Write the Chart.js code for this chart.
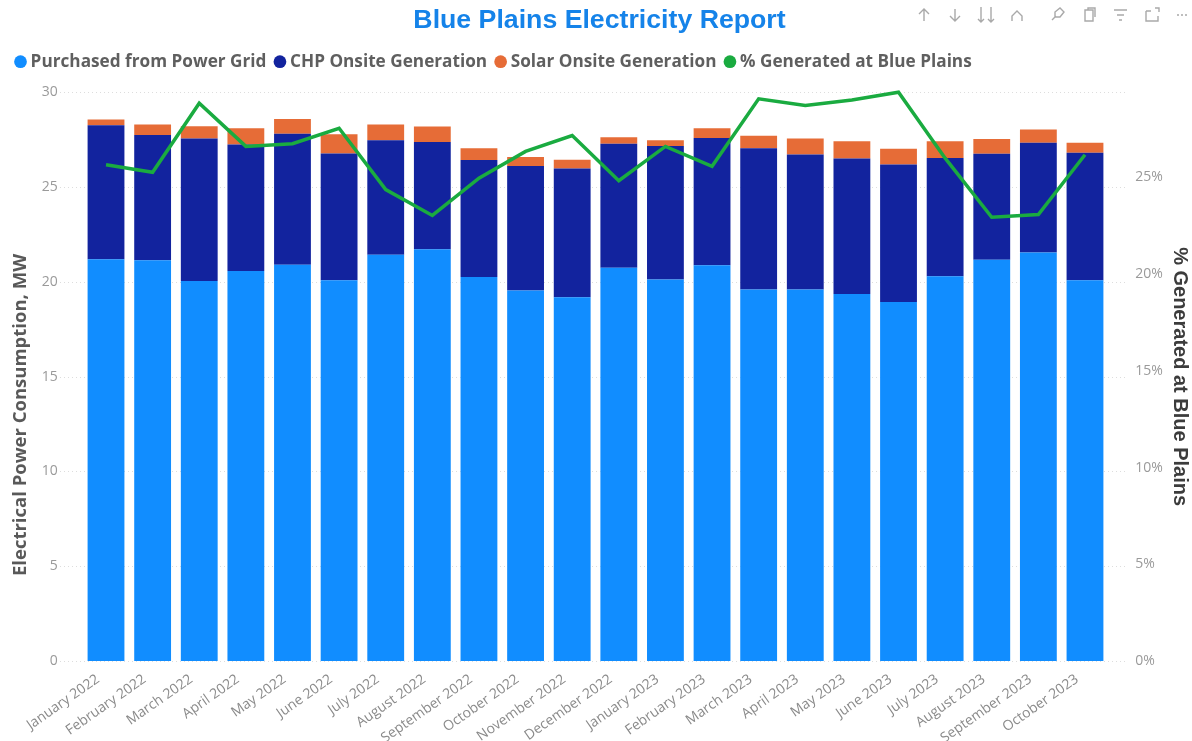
<!DOCTYPE html>
<html lang="en">
<head>
    <meta charset="UTF-8">
    <title>Blue Plains Electricity Report</title>
    <script src="https://cdn.jsdelivr.net/npm/chart.js"></script>
    <style>
        body {
            margin: 0;
            padding: 0;
            background: #ffffff;
        }
        .wrap {
            position: relative;
            width: 1192px;
            height: 741px;
            overflow: hidden;
        }
        .toolbar {
            position: absolute;
            left: 0;
            top: 0;
        }
    </style>
</head>
<body>
    <div class="wrap">
        <canvas id="reportChart" width="1192" height="741"></canvas>

        <!-- Visual header icons -->
        <svg class="toolbar" width="1192" height="32" fill="none" stroke="#a9a9a9" stroke-width="1.4">
            <path d="M924 21V9M919 14l5-5 5 5"/>
            <path d="M955 9v12M950 16l5 5 5-5"/>
            <path d="M981 7v15M978 19l3 3 3-3M991 7v15M988 19l3 3 3-3"/>
            <path d="M1012 21v-5l5-5 5 5v5"/>
            <path d="M1052 20l4-4M1055 12l5-4 4 4-4 5-5 0z"/>
            <path d="M1085 10h8v11h-8zM1088 10V8h7v9"/>
            <path d="M1114 10h13M1117 15h7M1119 20h3"/>
            <path d="M1146 11h5M1146 11v10h12v-5M1155 8h4v4"/>
            <path d="M1177 15h2M1181 15h2M1185 15h2"/>
        </svg>
    </div>

    <script>
        // Values
        const months = ["January 2022", "February 2022", "March 2022", "April 2022", "May 2022", "June 2022",
            "July 2022", "August 2022", "September 2022", "October 2022", "November 2022", "December 2022",
            "January 2023", "February 2023", "March 2023", "April 2023", "May 2023", "June 2023",
            "July 2023", "August 2023", "September 2023", "October 2023"];
        const gridPower = [21.19, 21.14, 20.05, 20.57, 20.90, 20.08, 21.43, 21.72, 20.26, 19.54, 19.18,
            20.74, 20.12, 20.88, 19.59, 19.59, 19.36, 18.94, 20.30, 21.17, 21.55, 20.08];
        const chpPower = [7.07, 6.60, 7.51, 6.68, 6.91, 6.69, 6.04, 5.65, 6.16, 6.57, 6.80,
            6.54, 7.04, 6.71, 7.45, 7.13, 7.15, 7.25, 6.23, 5.58, 5.78, 6.73];
        const solarPower = [0.30, 0.56, 0.65, 0.85, 0.78, 1.02, 0.83, 0.82, 0.63, 0.48, 0.46,
            0.35, 0.31, 0.51, 0.66, 0.84, 0.90, 0.83, 0.88, 0.79, 0.71, 0.52];
        const pctGenerated = [25.65, 25.26, 28.83, 26.60, 26.74, 27.54, 24.37, 23.03, 24.96, 26.34, 27.16,
            24.83, 26.60, 25.57, 29.06, 28.71, 29.00, 29.40, 25.99, 22.94, 23.08, 26.17];

        // Dotted grid runs past the bars on both sides
        const dottedGrid = {
            id: "dottedGrid",
            beforeDatasetsDraw(chart) {
                const ctx = chart.ctx;
                ctx.save();
                ctx.strokeStyle = "#dddddd";
                ctx.lineWidth = 1;
                ctx.setLineDash([1, 3]);
                chart.scales.y.ticks.forEach(t => {
                    const py = Math.round(chart.scales.y.getPixelForValue(t.value)) + 0.5;
                    ctx.beginPath();
                    ctx.moveTo(60, py);
                    ctx.lineTo(1125, py);
                    ctx.stroke();
                });
                ctx.restore();
            }
        };

        // Extra room under the legend
        const legendGap = {
            id: "legendGap",
            beforeInit(chart) {
                const fit = chart.legend.fit;
                chart.legend.fit = function () {
                    fit.call(this);
                    this.height += 12;
                };
            }
        };

        // Left axis title sits low in the original, not centred on the axis
        const leftTitle = {
            id: "leftTitle",
            afterDraw(chart) {
                const ctx = chart.ctx;
                ctx.save();
                ctx.translate(21, 415);
                ctx.rotate(-Math.PI / 2);
                ctx.font = "bold 18.5px 'Open Sans', sans-serif";
                ctx.fillStyle = "#595959";
                ctx.textAlign = "center";
                ctx.textBaseline = "middle";
                ctx.fillText("Electrical Power Consumption, MW", 0, 0);
                ctx.restore();
            }
        };

        new Chart(document.getElementById("reportChart").getContext("2d"), {
            type: "bar",
            plugins: [dottedGrid, legendGap, leftTitle],
            data: {
                labels: months,
                datasets: [
                    { label: "Purchased from Power Grid", data: gridPower, backgroundColor: "#118dff", yAxisID: "y", order: 1 },
                    { label: "CHP Onsite Generation", data: chpPower, backgroundColor: "#12239e", yAxisID: "y", order: 1 },
                    { label: "Solar Onsite Generation", data: solarPower, backgroundColor: "#e66c37", yAxisID: "y", order: 1 },
                    {
                        type: "line",
                        label: "% Generated at Blue Plains",
                        data: pctGenerated,
                        borderColor: "#1aab40",
                        backgroundColor: "#1aab40",
                        borderWidth: 3.5,
                        pointRadius: 0,
                        tension: 0,
                        clip: false,
                        yAxisID: "y1",
                        order: 0
                    }
                ]
            },
            options: {
                responsive: false,
                animation: false,
                barPercentage: 0.79,
                categoryPercentage: 1,
                layout: { padding: { left: 7, top: 0 } },
                plugins: {
                    tooltip: { enabled: false },
                    title: {
                        display: true,
                        text: "Blue Plains Electricity Report",
                        color: "#1583e9",
                        font: { family: "'Liberation Sans', sans-serif", size: 26.7, weight: "bold" },
                        padding: { top: 5, bottom: 4 }
                    },
                    legend: {
                        position: "top",
                        align: "start",
                        labels: {
                            usePointStyle: true,
                            pointStyle: "circle",
                            boxWidth: 3,
                            boxHeight: 9,
                            padding: 12,
                            color: "#5f5f5f",
                            font: { family: "'Open Sans', sans-serif", size: 17.2, weight: "bold" },
                            sort: (a, b) => a.datasetIndex - b.datasetIndex,
                            generateLabels(chart) {
                                const items = Chart.defaults.plugins.legend.labels.generateLabels(chart);
                                items.forEach(item => { item.lineWidth = 0; });
                                return items;
                            }
                        }
                    }
                },
                scales: {
                    x: {
                        stacked: true,
                        grid: { display: false },
                        border: { display: false },
                        afterFit(scale) { scale.height = 80; },
                        ticks: {
                            color: "#8a8a8a",
                            font: { family: "'Open Sans', sans-serif", size: 14 },
                            minRotation: 35,
                            maxRotation: 35,
                            autoSkip: false,
                            labelOffset: -8,
                            padding: 2
                        }
                    },
                    y: {
                        stacked: true,
                        position: "left",
                        min: 0,
                        max: 30,
                        grid: { display: false },
                        border: { display: false },
                        afterFit(scale) { scale.width = 75.7; },
                        ticks: {
                            stepSize: 5,
                            color: "#9a9a9a",
                            font: { family: "'Open Sans', sans-serif", size: 14 },
                            padding: 17
                        }
                    },
                    y1: {
                        position: "right",
                        min: 0,
                        max: 29.4,
                        grid: { display: false },
                        border: { display: false },
                        afterFit(scale) { scale.width = 83.7; },
                        afterBuildTicks(scale) { scale.ticks = scale.ticks.filter(t => t.value % 5 === 0); },
                        title: {
                            display: true,
                            text: "% Generated at Blue Plains",
                            color: "#3c3c3c",
                            font: { family: "'Liberation Sans', sans-serif", size: 20, weight: "bold" },
                            padding: 0
                        },
                        ticks: {
                            stepSize: 5,
                            color: "#9a9a9a",
                            font: { family: "'Open Sans', sans-serif", size: 14 },
                            padding: 19,
                            callback: v => v + "%"
                        }
                    }
                }
            }
        });
    </script>
</body>
</html>
